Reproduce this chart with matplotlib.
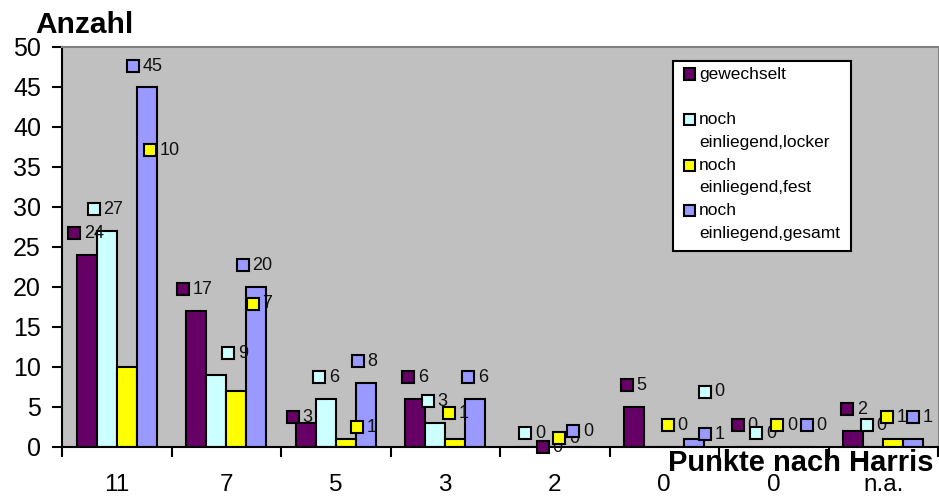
import matplotlib
matplotlib.use("Agg")
import matplotlib.pyplot as plt
from matplotlib.patches import Rectangle

# ========== Daten ==========
kategorien = ["11", "7", "5", "3", "2", "0", "0", "n.a."]
gewechselt = [24, 17, 3, 6, 0, 5, 0, 2]
locker = [27, 9, 6, 3, 0, 0, 0, 0]
fest = [10, 7, 1, 1, 0, 0, 0, 1]
gesamt = [45, 20, 8, 6, 0, 1, 0, 1]

serien_namen = ["gewechselt", "noch\neinliegend,locker", "noch\neinliegend,fest", "noch\neinliegend,gesamt"]
farben = ["#660066", "#CCFFFF", "#FFFF00", "#9999FF"]

# Position der (manuell verschobenen) Datenbeschriftungen
lab_x_gew = [-0.39, 0.605, 1.61, 2.66, 3.89, 4.66, 5.67, 6.67]
lab_y_gew = [26.75, 19.75, 3.75, 8.75, 0.0, 7.75, 2.75, 4.75]
lab_x_loc = [-0.21, 1.02, 1.85, 2.84, 3.73, 5.37, 5.84, 6.85]
lab_y_loc = [29.75, 11.75, 8.75, 5.75, 1.75, 6.9, 1.75, 2.75]
lab_x_fest = [0.30, 1.24, 2.19, 3.03, 4.04, 5.03, 6.03, 7.03]
lab_y_fest = [37.1, 17.9, 2.5, 4.25, 1.1, 2.75, 2.75, 3.75]
lab_x_ges = [0.15, 1.15, 2.20, 3.21, 4.17, 5.37, 6.30, 7.27]
lab_y_ges = [47.6, 22.75, 10.75, 8.75, 2.0, 1.6, 2.75, 3.75]

werte = [gewechselt, locker, fest, gesamt]
lab_x = [lab_x_gew, lab_x_loc, lab_x_fest, lab_x_ges]
lab_y = [lab_y_gew, lab_y_loc, lab_y_fest, lab_y_ges]

plt.rcParams['font.family'] = ['Liberation Sans', 'DejaVu Sans']

W, H = 939, 499
fig = plt.figure(figsize=(W / 100, H / 100), dpi=100)


def fx(px):
    return px / W


def fy(py):
    return 1 - py / H


ax = fig.add_axes([fx(62), fy(447), fx(876), 400 / H])
ax.set_facecolor("#C0C0C0")

# ========== Balken ==========
breite = 0.1826
n = len(kategorien)
for j, (vals, farbe) in enumerate(zip(werte, farben)):
    xs = [i + (j - 1.5) * breite for i in range(n)]
    ax.bar(xs, vals, width=breite, color=farbe, edgecolor="black", linewidth=1.5, zorder=2)

# ========== Datenbeschriftungen ==========
for j, farbe in enumerate(farben):
    for i in range(n):
        ax.plot(lab_x[j][i], lab_y[j][i], marker="s", ms=8, mfc=farbe, mec="black",
                mew=1.5, zorder=5, clip_on=False)
        ax.annotate(str(werte[j][i]), (lab_x[j][i], lab_y[j][i]), xytext=(7, 0),
                    textcoords="offset points", ha="left", va="center", fontsize=13,
                    color="#111111", zorder=5, annotation_clip=False)

# ========== Achsen ==========
ax.set_xlim(-0.5, n - 0.5)
ax.set_ylim(0, 50)
ax.set_yticks(range(0, 51, 5))
ax.tick_params(axis="y", labelsize=18, length=7.2, width=1.5, pad=8, direction="out")
ax.set_xticks(range(n))
ax.set_xticklabels(kategorien)
ax.set_xticks([i - 0.5 for i in range(n + 1)], minor=True)
ax.tick_params(axis="x", which="major", length=0, labelsize=17.5, pad=19.5)
ax.tick_params(axis="x", which="minor", length=7.2, width=1.5, direction="out")

ax.spines["left"].set_linewidth(1.5)
ax.spines["bottom"].set_linewidth(1.5)
ax.spines["top"].set_color("#808080")
ax.spines["top"].set_linewidth(1.5)
ax.spines["right"].set_color("#808080")

fig.text(fx(35), fy(25), "Anzahl", fontsize=21.5, fontweight="bold", ha="left", va="center")
fig.text(fx(933), fy(463), "Punkte nach Harris", fontsize=21, fontweight="bold",
         ha="right", va="center")

# ========== Legende (manuell) ==========
fig.patches.append(Rectangle((fx(673), fy(251)), fx(851) - fx(673), (251 - 61) / H,
                             transform=fig.transFigure, facecolor="white",
                             edgecolor="black", linewidth=1.5, zorder=10))
zeile = 22.8
for k, (name, farbe) in enumerate(zip(serien_namen, farben)):
    y0 = 74 + 2 * k * zeile
    fig.patches.append(Rectangle((fx(683.5), fy(y0 + 5.5)), 11 / W, 11 / H,
                                 transform=fig.transFigure, facecolor=farbe,
                                 edgecolor="black", linewidth=1.5, zorder=11))
    for m, line in enumerate(name.split("\n")):
        fig.text(fx(699), fy(y0 + m * zeile), line, fontsize=12.5, ha="left",
                 va="center", zorder=12)

fig.savefig("out.png", dpi=100)
